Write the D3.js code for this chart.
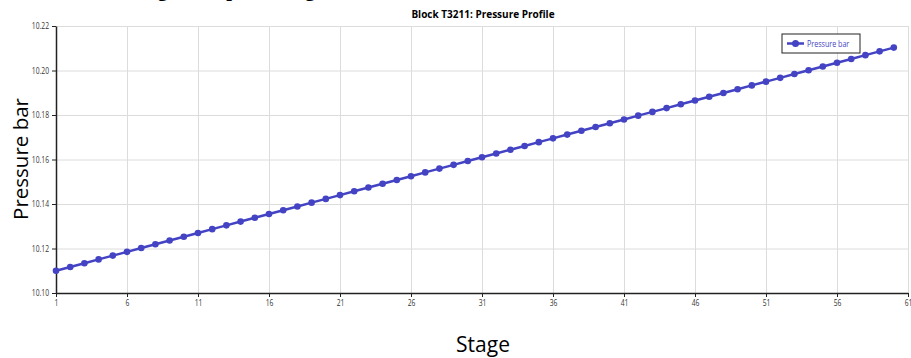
<!DOCTYPE html>
<html>
<head>
<meta charset="utf-8">
<script src="https://cdn.jsdelivr.net/npm/d3@7"></script>
<style>
  body { margin: 0; background: #fff; }
  svg { display: block; }
  .tick text { font-family: "Open Sans", sans-serif; font-size: 9px; fill: #333; }
  .grid line { stroke: #dcdcdc; stroke-width: 1; }
  .grid path { display: none; }
</style>
</head>
<body>
<svg id="chart" width="911" height="358"></svg>
<script>
// stage numbers and pressure readings (bar)
const stages = d3.range(1, 61);
const pressure = [
  10.1100, 10.1117, 10.1134, 10.1151, 10.1168, 10.1185, 10.1202, 10.1219, 10.1236, 10.1253,
  10.1270, 10.1287, 10.1304, 10.1321, 10.1338, 10.1355, 10.1372, 10.1389, 10.1406, 10.1423,
  10.1440, 10.1457, 10.1474, 10.1491, 10.1508, 10.1525, 10.1542, 10.1559, 10.1576, 10.1593,
  10.1610, 10.1627, 10.1644, 10.1661, 10.1678, 10.1695, 10.1712, 10.1729, 10.1746, 10.1763,
  10.1780, 10.1797, 10.1814, 10.1831, 10.1848, 10.1865, 10.1882, 10.1899, 10.1916, 10.1933,
  10.1950, 10.1967, 10.1984, 10.2001, 10.2018, 10.2035, 10.2052, 10.2069, 10.2086, 10.2103
];
const xTicks = [1, 6, 11, 16, 21, 26, 31, 36, 41, 46, 51, 56, 61];
const yTicks = [10.10, 10.12, 10.14, 10.16, 10.18, 10.20, 10.22];
const seriesName = "Pressure bar";

const data = stages.map((s, i) => ({ stage: s, value: pressure[i] }));
const color = "#4343c4";
const squeeze = 0.75; // narrow the small labels, the source font is condensed

const svg = d3.select("#chart");
const m = { left: 56, right: 908, top: 26, bottom: 293 };

const x = d3.scaleLinear().domain([1, 61]).range([m.left, m.right]);
const y = d3.scaleLinear().domain([10.10, 10.22]).range([m.bottom, m.top]);

// page heading above the chart, only its descenders reach into the window
svg.append("text")
    .attr("x", 129)
    .attr("y", -4)
    .style("font-family", "Liberation Serif, serif")
    .style("font-weight", "bold")
    .style("font-size", "20.5px")
    .text("Stage-wise profile log");

// grid
svg.append("g")
    .attr("class", "grid")
    .attr("transform", `translate(0, ${m.bottom})`)
    .call(d3.axisBottom(x).tickValues(xTicks).tickSize(-(m.bottom - m.top)).tickFormat(""));
svg.append("g")
    .attr("class", "grid")
    .attr("transform", `translate(${m.left}, 0)`)
    .call(d3.axisLeft(y).tickValues(yTicks).tickSize(-(m.right - m.left)).tickFormat(""));

// axes
const xAxis = svg.append("g")
    .attr("transform", `translate(0, ${m.bottom})`)
    .call(d3.axisBottom(x).tickValues(xTicks).tickSize(4).tickSizeOuter(0).tickPadding(3));
const yAxis = svg.append("g")
    .attr("transform", `translate(${m.left}, 0)`)
    .call(d3.axisLeft(y).tickValues(yTicks).tickFormat(d3.format(".2f")).tickSize(4).tickSizeOuter(0).tickPadding(3));
[xAxis, yAxis].forEach(a => {
    a.select(".domain").attr("stroke", "#222").attr("stroke-width", 1.5);
    a.selectAll(".tick line").attr("stroke", "#222");
    a.selectAll(".tick text").attr("transform", `scale(${squeeze},1)`);
});
yAxis.selectAll(".tick text").attr("x", -7 / squeeze);

// line and markers
svg.append("path")
    .datum(data)
    .attr("fill", "none")
    .attr("stroke", color)
    .attr("stroke-width", 2.5)
    .attr("d", d3.line().x(d => x(d.stage)).y(d => y(d.value)));

svg.selectAll(".pt")
    .data(data)
    .join("circle")
    .attr("class", "pt")
    .attr("cx", d => x(d.stage))
    .attr("cy", d => y(d.value))
    .attr("r", 3.3)
    .attr("fill", color);

// title
svg.append("text")
    .attr("x", 483)
    .attr("y", 18)
    .attr("text-anchor", "middle")
    .style("font-family", "Open Sans, sans-serif")
    .style("font-weight", "bold")
    .style("font-size", "10px")
    .text("Block T3211: Pressure Profile");

// axis labels
svg.append("text")
    .attr("x", 483)
    .attr("y", 352)
    .attr("text-anchor", "middle")
    .style("font-family", "Open Sans, sans-serif")
    .style("font-size", "21px")
    .text("Stage");

svg.append("text")
    .attr("transform", `translate(28, 159) rotate(-90)`)
    .attr("text-anchor", "middle")
    .style("font-family", "Open Sans, sans-serif")
    .style("font-size", "20.5px")
    .text("Pressure bar");

// legend
const lg = svg.append("g").attr("transform", "translate(782, 34)");
lg.append("rect")
    .attr("width", 78)
    .attr("height", 19)
    .attr("fill", "#fff")
    .attr("stroke", "#222")
    .attr("stroke-width", 1);
lg.append("line")
    .attr("x1", 5).attr("x2", 22)
    .attr("y1", 9.5).attr("y2", 9.5)
    .attr("stroke", color)
    .attr("stroke-width", 2.5);
lg.append("circle")
    .attr("cx", 13.5).attr("cy", 9.5).attr("r", 3.5)
    .attr("fill", color);
lg.append("text")
    .attr("transform", `translate(25, 13) scale(${squeeze},1)`)
    .style("font-family", "Open Sans, sans-serif")
    .style("font-size", "9.5px")
    .attr("fill", color)
    .text(seriesName);
</script>
</body>
</html>
